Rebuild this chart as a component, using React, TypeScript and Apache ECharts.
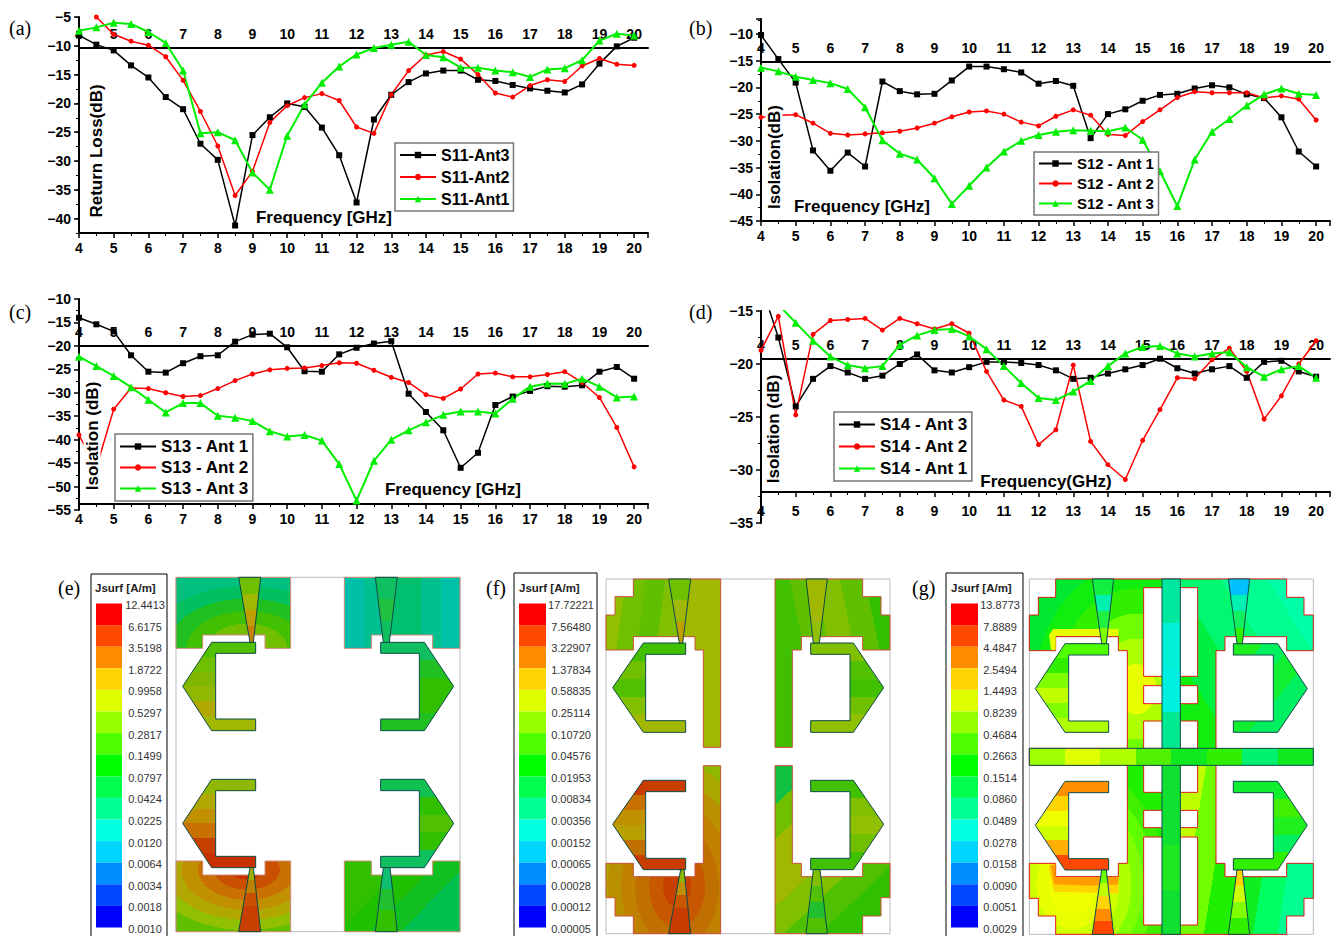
import React, { useEffect, useRef } from "react";
import * as echarts from "echarts";

const freq = [4,4.5,5,5.5,6,6.5,7,7.5,8,8.5,9,9.5,10,10.5,11,11.5,12,12.5,13,13.5,14,14.5,15,15.5,16,16.5,17,17.5,18,18.5,19,19.5,20];

const s11Ant3 = [-8.2,-9.8,-10.8,-13.4,-15.5,-18.9,-21,-27,-29.8,-41.2,-25.5,-22.4,-20,-20.6,-24.2,-29,-37.2,-22.8,-18.5,-16.3,-14.8,-14.3,-14.3,-15.9,-16.1,-16.8,-17.4,-17.8,-18.1,-16.7,-13.1,-10.1,-8.6];
const s11Ant2 = [null,-5,-8,-9.2,-9.9,-11.9,-16,-21.4,-27.4,-36,-31.8,-23.3,-20.4,-19,-18.3,-19.5,-24.1,-25.2,-18.5,-14.3,-11.6,-11,-12.3,-15,-18.2,-18.9,-16.9,-15.9,-16.2,-13.5,-12.2,-13.2,-13.4];
const s11Ant1 = [-7.4,-6.8,-6,-6.2,-7.6,-9.5,-14.3,-25.2,-25,-26.4,-32,-35,-25.6,-20.2,-16.4,-13.6,-11.5,-10.4,-9.8,-9.3,-11.6,-12,-13.8,-13.8,-14.3,-14.6,-15.4,-14.1,-13.9,-12.5,-9.1,-7.9,-8.2];

const s12Ant1 = [-10.2,-14.7,-19.1,-31.8,-35.6,-32.2,-34.8,-18.9,-20.7,-21.3,-21.2,-18.7,-16.1,-16.1,-16.6,-17.2,-19.3,-18.8,-19.7,-29.5,-25,-24.1,-22.5,-21.4,-21.2,-20.2,-19.6,-20,-21.3,-22,-25.6,-32,-34.8];
const s12Ant2 = [-25.6,-25.2,-25.1,-26.7,-28.6,-28.9,-28.7,-28.5,-28.2,-27.6,-26.7,-25.5,-24.6,-24.4,-25,-26.5,-27.2,-25.4,-24.2,-25.2,-28.8,-29,-26.4,-24.2,-21.9,-20.8,-21,-21,-21,-22,-21.6,-22.2,-26.1];
const s12Ant3 = [-16.3,-17,-18,-18.6,-19.2,-20.3,-23.7,-29.9,-32.4,-33.5,-37,-41.8,-38.4,-35,-32,-30,-28.9,-28.3,-28,-28.1,-28.2,-27.5,-29.8,-35.7,-42.2,-33.5,-28.3,-25.9,-23.4,-21.3,-20.2,-21.2,-21.4];

const s13Ant1 = [-14,-15.4,-16.9,-22,-25.5,-25.7,-23.7,-22.2,-22,-19.1,-17.6,-17.4,-20.3,-25.4,-25.5,-21.8,-20.4,-19.5,-19,-30.2,-34.1,-38,-46,-42.8,-32.6,-30.8,-29.6,-28.6,-28.7,-28.4,-25.5,-24.5,-27];
const s13Ant2 = [-39,-46,-33.5,-29,-29.1,-30,-30.8,-30.6,-29.1,-27.4,-26,-25.1,-24.8,-24.7,-24.2,-23.6,-23.7,-25.2,-26.7,-27.8,-30.4,-31.2,-29.2,-26,-25.8,-26.6,-26.6,-26.1,-25.5,-27.8,-31,-37.4,-45.8];
const s13Ant3 = [-22.3,-24.3,-26.4,-28.8,-31.5,-34.2,-32.2,-32.2,-34.9,-35.3,-36,-38.2,-39.3,-39,-40.2,-45.2,-53,-44.5,-40,-38,-36.3,-34.7,-34,-34,-34.4,-31.3,-28.7,-28,-28.1,-27,-28.7,-31,-30.8];

const s14Ant3 = [-12.5,-17.5,-24,-21.4,-20.2,-20.8,-21.4,-21.1,-20,-19.1,-20.6,-20.8,-20.3,-19.8,-19.8,-19.9,-20.1,-20.6,-21.4,-21.3,-20.9,-20.5,-20.1,-19.5,-20.4,-20.9,-20.5,-20.2,-21.3,-19.8,-19.7,-20.7,-21.2];
const s14Ant2 = [-18.7,-15.5,-24.8,-17.2,-15.9,-15.8,-15.7,-16.8,-15.7,-16.2,-16.7,-16.2,-17.1,-20.7,-23.4,-24,-27.6,-26.2,-20.1,-27.3,-29.5,-30.9,-27.2,-24.3,-21.3,-21.4,-19.6,-18.5,-20.7,-25.2,-23,-20,-17.8];
const s14Ant1 = [null,-14.4,-16.1,-17.8,-19.3,-20.1,-20.4,-20.2,-18.2,-17.3,-16.8,-16.7,-17.4,-18.6,-20.2,-21.8,-23.2,-23.4,-22.6,-21.6,-20.2,-19,-18.4,-18.3,-19,-19.3,-19,-18.9,-20.3,-21.2,-20.5,-20.2,-21.3];

const returnLossTicks = [-40,-35,-30,-25,-20,-15,-10,-5];

const barColors = ["#ff0000","#ff4800","#ff8c00","#ffd400","#dfff00","#95ff00","#4dff00","#00ff00","#00ff4d","#00ff95","#00ffdf","#00d4ff","#008cff","#0048ff","#0000ff"];
const labelsE = ["12.4413","6.6175","3.5198","1.8722","0.9958","0.5297","0.2817","0.1499","0.0797","0.0424","0.0225","0.0120","0.0064","0.0034","0.0018","0.0010"];
const labelsF = ["17.72221","7.56480","3.22907","1.37834","0.58835","0.25114","0.10720","0.04576","0.01953","0.00834","0.00356","0.00152","0.00065","0.00028","0.00012","0.00005"];
const labelsG = ["13.8773","7.8889","4.4847","2.5494","1.4493","0.8239","0.4684","0.2663","0.1514","0.0860","0.0489","0.0278","0.0158","0.0090","0.0051","0.0029"];

const SANS = "Liberation Sans";
const SERIF = "Liberation Serif";

function stops(colors: string[]) {
  const out: any[] = [];
  const n = colors.length;
  colors.forEach((c, i) => {
    out.push({ offset: i / n, color: c });
    out.push({ offset: (i + 1) / n, color: c });
  });
  return out;
}
const rad = (x: number, y: number, r: number, colors: string[]) =>
  new echarts.graphic.RadialGradient(x, y, r, stops(colors));
const lin = (x: number, y: number, x2: number, y2: number, colors: string[]) =>
  new echarts.graphic.LinearGradient(x, y, x2, y2, stops(colors));

function polygon(ox: number, oy: number, pts: number[][], fill: any, stroke: string, lw = 1, z = 1) {
  return {
    type: "polygon",
    z,
    silent: true,
    shape: { points: pts.map(([a, b]) => [ox + a / 3, oy + b / 3]) },
    style: { fill, stroke, lineWidth: lw },
  };
}

function colorBar(labels: string[], boxL: number, boxR: number, boxT: number, swL: number, swR: number, labelX: number, titleX: number) {
  const out: any[] = [];
  const top = 603.5;
  const h = (927.5 - top) / barColors.length;
  out.push({ type: "rect", silent: true, shape: { x: boxL, y: boxT, width: boxR - boxL, height: 970 - boxT }, style: { fill: "#fff", stroke: "#000", lineWidth: 1 } });
  out.push({ type: "text", silent: true, x: titleX, y: 588, style: { text: "Jsurf [A/m]", fill: "#222", fontFamily: SANS, fontSize: 11.5, fontWeight: "bold", textVerticalAlign: "middle" } });
  barColors.forEach((c, i) => {
    out.push({ type: "rect", silent: true, shape: { x: swL, y: top + i * h, width: swR - swL, height: h }, style: { fill: c } });
  });
  labels.forEach((t, i) => {
    out.push({ type: "text", silent: true, x: labelX, y: top + 1.5 + i * h, style: { text: t, fill: "#333", fontFamily: SANS, fontSize: 11, textAlign: "center", textVerticalAlign: "middle" } });
  });
  return out;
}

const DK = "#0e4a4a";

function panelE() {
  const x = 50, y = 565;
  const ed = "#d08a78";
  const p = (pts: number[][], f: any, s = DK, lw = 1) => polygon(x, y, pts, f, s, lw);
  return [
    { type: "rect", silent: true, shape: { x: x + 378 / 3, y: y + 37 / 3, width: 852 / 3, height: 1063 / 3 }, style: { fill: "#fff", stroke: "#bbb", lineWidth: 1 } },
    p([[378,37],[722,37],[722,250],[645,250],[645,210],[458,210],[458,250],[378,250]], rad(0.62,1,1.05,["#a0b800","#70c000","#40c000","#20c020","#00c060","#00c080"]), ed),
    p([[883,37],[1230,37],[1230,250],[1148,250],[1148,210],[964,210],[964,250],[883,250]], lin(0,0,1,0,["#00bfa8","#00c090","#00c070","#00c070","#00c090","#00c0a8"]), ed),
    p([[378,888],[458,888],[458,930],[645,930],[645,888],[722,888],[722,1100],[378,1100]], rad(0.62,0.12,1,["#c83000","#c85000","#c87000","#c09000","#b0a800","#90c000","#60c000"]), ed),
    p([[883,888],[964,888],[964,930],[1148,930],[1148,888],[1230,888],[1230,1100],[883,1100]], lin(0,0,1,0.6,["#30c000","#30c000","#20c000","#10c020","#00c050"]), ed),
    p([[485,232],[617,232],[617,265],[497,265],[497,462],[617,462],[617,497],[485,497],[398,364]], lin(0,0,0,1,["#50c000","#70c000","#80b800","#90b800","#b0a800","#a0b800"])),
    p([[1123,232],[992,232],[992,265],[1108,265],[1108,462],[992,462],[992,497],[1123,497],[1211,364]], lin(0,0,0,1,["#10c060","#20c020","#30c000","#30c000","#20c020"])),
    p([[485,643],[617,643],[617,677],[497,677],[497,874],[617,874],[617,908],[485,908],[398,775]], lin(0,0,0,1,["#90b800","#b0a800","#c09000","#c87000","#c84000","#c83000"])),
    p([[1123,643],[992,643],[992,677],[1108,677],[1108,874],[992,874],[992,908],[1123,908],[1211,775]], lin(0,0,0,1,["#10c050","#30c000","#50c000","#30c000","#10c060"])),
    p([[566,37],[632,37],[610,232],[600,232]], lin(0,1,0,0,["#c88000","#c0a000","#a0b800","#70c000"])),
    p([[976,37],[1042,37],[1018,232],[1000,232]], lin(0,0,0,1,["#10c060","#20c040","#10c060"])),
    p([[566,1100],[632,1100],[610,908],[600,908]], lin(0,1,0,0,["#c84000","#c84000","#c85000","#c08000","#a0b000"])),
    p([[976,1100],[1042,1100],[1020,908],[1000,908]], lin(0,0,0,1,["#10c070","#20c030","#30c000"])),
  ];
}

function panelF() {
  const x = 480, y = 565;
  const ed = "#c8503c";
  const p = (pts: number[][], f: any, s = DK, lw = 1) => polygon(x, y, pts, f, s, lw);
  return [
    { type: "rect", silent: true, shape: { x: x + 378 / 3, y: y + 42 / 3, width: 852 / 3, height: 1064 / 3 }, style: { fill: "#fff", stroke: "#bbb", lineWidth: 1 } },
    p([[460,42],[722,42],[722,547],[670,547],[670,255],[645,255],[645,215],[460,215],[460,255],[378,255],[378,150],[405,150],[405,95],[460,95]], lin(0,0,1,0.2,["#90c000","#70c000","#60c000","#80c000","#a0b800","#a0b800"]), ed),
    p([[885,42],[885,547],[937,547],[937,255],[964,255],[964,215],[1148,215],[1148,255],[1230,255],[1230,150],[1203,150],[1203,95],[1148,95],[1148,42]], lin(0,0.3,1,0,["#40c000","#60c000","#80c000","#60c000","#30c000"]), ed),
    p([[670,602],[722,602],[722,1106],[460,1106],[460,1053],[405,1053],[405,998],[378,998],[378,895],[460,895],[460,935],[645,935],[645,895],[670,895]], rad(0.62,0.72,0.85,["#c84000","#c85800","#c07000","#c08000","#b89000","#a8a800","#90b800"]), ed),
    p([[885,602],[937,602],[937,895],[964,895],[964,935],[1148,935],[1148,895],[1230,895],[1230,998],[1203,998],[1203,1053],[1148,1053],[1148,1106],[885,1106]], lin(0.05,0,0.7,1,["#10c040","#70c000","#a0b800","#a0b800","#80c000","#50c000","#30c000"]), ed),
    p([[490,234],[617,234],[617,268],[497,268],[497,467],[617,467],[617,502],[490,502],[398,368]], lin(0,0,0,1,["#40c000","#70c000","#50c000","#80c000","#a0b800"])),
    p([[1120,234],[992,234],[992,268],[1110,268],[1110,467],[992,467],[992,502],[1120,502],[1211,368]], lin(0,0,0,1,["#80c000","#50c000","#40c000","#70c000","#90c000"])),
    p([[490,646],[617,646],[617,680],[497,680],[497,880],[617,880],[617,914],[490,914],[398,778]], lin(0,0,0,1,["#c83c00","#c87000","#c09000","#b8a000","#c07000","#c83c00"])),
    p([[1120,646],[992,646],[992,680],[1110,680],[1110,880],[992,880],[992,914],[1120,914],[1211,778]], lin(0,0,0,1,["#40c000","#80c000","#90c000","#70c000","#40c000"])),
    p([[566,42],[632,42],[608,234],[598,234]], lin(0,1,0,0,["#c0a000","#a0b800","#70c000"])),
    p([[978,42],[1042,42],[1018,234],[1000,234]], lin(0,0,0,1,["#a0b800","#a0b800","#90c000"])),
    p([[566,1106],[632,1106],[612,914],[602,914]], lin(0,1,0,0,["#c83c00","#c83c00","#c85800","#c09000","#90b800"])),
    p([[978,1106],[1042,1106],[1020,914],[1000,914]], lin(0,1,0,0,["#50c000","#20c030","#50c000","#80c000"])),
  ];
}

function panelG() {
  const x = 905, y = 565;
  const ed = "#e01818";
  const p = (pts: number[][], f: any, s = DK, lw = 1) => polygon(x, y, pts, f, s, lw);
  const slots = [[716,68,878,334],[716,362,878,416],[716,468,878,550],[716,601,878,682],[716,736,878,788],[716,816,878,1080]];
  return [
    { type: "rect", silent: true, shape: { x: x + 373 / 3, y: y + 42 / 3, width: 852 / 3, height: 1066 / 3 }, style: { fill: "#fff", stroke: "#bbb", lineWidth: 1 } },
    p([[452,42],[800,42],[800,575],[373,575],[373,550],[667,550],[667,257],[640,257],[640,215],[452,215],[452,257],[373,257],[373,150],[400,150],[400,97],[452,97]], rad(0.75,0.62,0.85,["#e8ff00","#b0ff00","#70ff00","#30f000","#10ee10","#00e830"]), ed),
    p([[800,42],[1145,42],[1145,97],[1197,97],[1197,150],[1225,150],[1225,257],[1145,257],[1145,215],[960,215],[960,257],[933,257],[933,575],[800,575]], lin(0,0.8,1,0,["#10ee10","#00f040","#00f870","#00ff90","#00ffa8"]), ed),
    p([[373,601],[667,601],[667,895],[640,895],[640,935],[452,935],[452,895],[373,895],[373,1000],[400,1000],[400,1053],[452,1053],[452,1108],[800,1108],[800,575],[373,575]], rad(0.3,0.72,0.75,["#f0ff00","#f0ff00","#e8ff00","#d0ff00","#b0ff00","#80ff00","#60ff00","#40f000","#20f000"]), ed),
    p([[800,575],[933,575],[933,895],[960,895],[960,935],[1145,935],[1145,895],[1225,895],[1225,1000],[1197,1000],[1197,1053],[1145,1053],[1145,1108],[800,1108]], lin(0,0.4,1,0.6,["#c0ff00","#70ff00","#20f000","#10ee20","#00ff60","#00ff90"]), ed),
    // hot bands around the feed notches
    polygon(x, y, [[438,255],[452,255],[452,213],[640,213],[640,192],[445,192],[432,210]], "#e8ff00", "none"),
    polygon(x, y, [[437,900],[451,900],[451,937],[640,937],[640,958],[560,962],[447,958]], "#ff9c00", "none"),
    polygon(x, y, [[451,897],[437,897],[430,905],[447,980],[640,985],[640,958],[447,958]], "#ffd400", "none"),
    polygon(x, y, [[437,900],[451,900],[451,937],[640,937],[640,958],[560,962],[447,958]], "#ff9c00", "none"),
    ...slots.map(([a, b, c, d]) => p([[a,b],[c,b],[c,d],[a,d]], "#fff", ed)),
    p([[771,42],[826,42],[826,1108],[771,1108]], lin(0,0,0,1,["#00e8a0","#00f0d8","#00f0e0","#00e890","#10e030","#10e030","#20e820","#10e030"]), DK),
    p([[373,550],[1225,550],[1225,601],[373,601]], lin(0,0,1,0,["#a0ff00","#e0ff00","#b0ff00","#50f000","#10e820","#30f000","#00f070","#10e820"]), DK),
    p([[480,236],[611,236],[611,270],[491,270],[491,468],[611,468],[611,502],[480,502],[391,371]], lin(0,0,0,1,["#50ff00","#30f000","#80ff00","#c0ff00","#80ff00","#b0ff00"])),
    p([[1118,236],[985,236],[985,270],[1105,270],[1105,468],[985,468],[985,502],[1118,502],[1207,371]], lin(0,0,1,1,["#20f020","#00f060","#10f030","#00ef60","#00e8a0"])),
    p([[480,649],[611,649],[611,683],[491,683],[491,881],[611,881],[611,915],[480,915],[391,781]], lin(0,0,0,1,["#ff9000","#ffd400","#f0ff00","#d0ff00","#ffb000","#ff4800"])),
    p([[1118,649],[985,649],[985,683],[1105,683],[1105,881],[985,881],[985,915],[1118,915],[1207,781]], lin(0,0,0,1,["#10ee30","#40f000","#20f020","#00f060","#30f000"])),
    p([[562,42],[626,42],[604,236],[590,236]], lin(0,0,0,1,["#10f040","#00f0b0","#20f040","#80ff00"])),
    p([[970,42],[1034,42],[1012,236],[996,236]], lin(0,0,0,1,["#00c0ff","#00f0b0","#10f060","#30f000"])),
    p([[562,1108],[626,1108],[604,915],[590,915]], lin(0,1,0,0,["#ff4800","#ff8c00","#ffd400","#c0ff00","#70ff00"])),
    p([[970,1108],[1034,1108],[1012,915],[996,915]], lin(0,1,0,0,["#30f000","#80ff00","#d0ff00","#ffd400"])),
  ];
}

function caption(t: string, x: number, y: number) {
  return { type: "text", silent: true, x, y, style: { text: t, fill: "#000", fontFamily: SERIF, fontSize: 20, textVerticalAlign: "middle" } };
}
function axisTitle(t: string, x: number, y: number, vertical: boolean, size = 17) {
  return {
    type: "text", silent: true, z: 20, x, y, rotation: vertical ? Math.PI / 2 : 0,
    style: { text: t, fill: "#000", fontFamily: SANS, fontSize: size, fontWeight: "bold", textAlign: "center", textVerticalAlign: "middle", backgroundColor: vertical ? "#fff" : undefined },
  };
}

const minusFmt = (v: number) => String(v).replace("-", "\u2212");

type PanelCfg = {
  left: number; width: number; top: number; bottom: number;
  yMin: number; yMax: number; fine?: boolean; topOffset: number; bottomOffset: number; labelMargin: number;
  names: string[]; data: (number | null)[][];
  legend: { left: number; top: number; gap: number; size: number; width: number };
};

const panels: PanelCfg[] = [
  { left: 79, width: 569, top: 17, bottom: 233, yMin: -42.5, yMax: -5, fine: true, topOffset: -31, bottomOffset: 0, labelMargin: 8,
    names: ["S11-Ant3","S11-Ant2","S11-Ant1"], data: [s11Ant3, s11Ant2, s11Ant1], legend: { left: 395, top: 143, gap: 6, size: 16, width: 36 } },
  { left: 761, width: 569, top: 19, bottom: 221, yMin: -45, yMax: -7.2, topOffset: -43, bottomOffset: 0, labelMargin: 8,
    names: ["S12 - Ant 1","S12 - Ant 2","S12 - Ant 3"], data: [s12Ant1, s12Ant2, s12Ant3], legend: { left: 1034, top: 152, gap: 5, size: 15, width: 33 } },
  { left: 79, width: 569, top: 299, bottom: 510, yMin: -55, yMax: -10, topOffset: -47, bottomOffset: -6, labelMargin: 8,
    names: ["S13 - Ant 1","S13 - Ant 2","S13 - Ant 3"], data: [s13Ant1, s13Ant2, s13Ant3], legend: { left: 115, top: 434, gap: 4, size: 17, width: 36 } },
  { left: 761, width: 569, top: 311, bottom: 523, yMin: -35, yMax: -15, topOffset: -48, bottomOffset: -31, labelMargin: 12,
    names: ["S14 - Ant 3","S14 - Ant 2","S14 - Ant 1"], data: [s14Ant3, s14Ant2, s14Ant1], legend: { left: 834, top: 412, gap: 5, size: 17, width: 36 } },
];

const serStyle = [
  { color: "#000000", symbol: "rect", symbolSize: 6, width: 1.5 },
  { color: "#ff0000", symbol: "circle", symbolSize: 5, width: 1.5 },
  { color: "#00ee00", symbol: "triangle", symbolSize: 8, width: 2 },
];

export default function App() {
  const ref = useRef<HTMLDivElement>(null);
  useEffect(() => {
    const chart = echarts.init(ref.current!, null, { renderer: "svg", width: 1333, height: 936 });
    const labelStyle = { color: "#000", fontFamily: SANS, fontWeight: "bold" as const, fontSize: 14 };
    const grid: any[] = [];
    const xAxis: any[] = [];
    const yAxis: any[] = [];
    const series: any[] = [];
    const legend: any[] = [];
    panels.forEach((p, i) => {
      grid.push({ left: p.left, top: p.top, width: p.width, height: p.bottom - p.top, containLabel: false });
      const xBase = {
        type: "value", gridIndex: i, min: 4, max: 20.4, interval: 1,
        splitLine: { show: false },
        axisLine: { onZero: false, lineStyle: { color: "#000", width: 2 } },
        axisLabel: { ...labelStyle, showMaxLabel: false, showMinLabel: true },
      };
      xAxis.push({
        ...xBase, position: "bottom", offset: p.bottomOffset,
        axisTick: { show: true, length: 5, inside: false, lineStyle: { color: "#000", width: 1.5 } },
        minorTick: { show: true, splitNumber: 2, length: 3, lineStyle: { color: "#000", width: 1 } },
        axisLabel: { ...xBase.axisLabel, margin: p.labelMargin },
      });
      xAxis.push({
        ...xBase, position: "top", offset: p.topOffset,
        axisTick: { show: false },
        axisLabel: { ...xBase.axisLabel, margin: 7 },
      });
      const yBase = {
        type: "value", gridIndex: i, min: p.yMin, max: p.yMax, position: "left",
        splitLine: { show: false },
        axisLine: { onZero: false, lineStyle: { color: "#000", width: 2 } },
      };
      if (p.fine) {
        yAxis.push({
          ...yBase, interval: 2.5,
          axisTick: { show: true, length: 5, customValues: returnLossTicks, lineStyle: { color: "#000", width: 1.5 } },
          axisLabel: { ...labelStyle, margin: 8, formatter: minusFmt, customValues: returnLossTicks },
        });
      } else {
        yAxis.push({
          ...yBase, interval: 5,
          axisTick: { show: true, length: 5, lineStyle: { color: "#000", width: 1.5 } },
          minorTick: { show: true, splitNumber: 2, length: 3, lineStyle: { color: "#000", width: 1 } },
          axisLabel: { ...labelStyle, margin: 8, formatter: minusFmt, showMaxLabel: Number.isInteger(p.yMax), showMinLabel: Number.isInteger(p.yMin) },
        });
      }
      p.names.forEach((name, k) => {
        const st = serStyle[k];
        series.push({
          type: "line", name, xAxisIndex: i * 2, yAxisIndex: i,
          data: freq.map((f, j) => [f, p.data[k][j]]),
          symbol: st.symbol, symbolSize: st.symbolSize, showSymbol: true, connectNulls: false,
          lineStyle: { color: st.color, width: st.width }, itemStyle: { color: st.color },
          clip: true, silent: true,
        });
      });
      legend.push({
        data: p.names, orient: "vertical", left: p.legend.left, top: p.legend.top,
        itemWidth: p.legend.width, itemHeight: 8, itemGap: p.legend.gap, padding: [4, 4, 4, 4],
        backgroundColor: "#fff", borderColor: "#777", borderWidth: 1.5, borderRadius: 0,
        selectedMode: false, z: 10,
        textStyle: { color: "#000", fontFamily: SANS, fontWeight: "bold", fontSize: p.legend.size, padding: [0, 0, 0, 0] },
      });
    });
    panels.forEach((p, i) => {
      if (!p.fine) return;
      yAxis.push({
        type: "value", gridIndex: i, min: p.yMin, max: p.yMax, position: "left", interval: 2.5,
        splitLine: { show: false }, axisLine: { show: false, onZero: false }, axisLabel: { show: false },
        axisTick: { show: true, length: 3, lineStyle: { color: "#000", width: 1 } },
      });
    });

    const elements: any[] = [
      caption("(a)", 9, 28), caption("(b)", 689, 28), caption("(c)", 9, 312), caption("(d)", 689, 312),
      caption("(e)", 58, 588), caption("(f)", 486, 588), caption("(g)", 912, 588),
      axisTitle("Return Loss(dB)", 96, 151, true),
      axisTitle("Frequency [GHz]", 324, 217, false),
      axisTitle("Isolation(dB)", 774, 157, true),
      axisTitle("Frequency [GHz]", 862, 206, false),
      axisTitle("Isolation (dB)", 92, 436, true),
      axisTitle("Frequency [GHz]", 453, 489, false),
      axisTitle("Isolation (dB)", 773, 429, true),
      axisTitle("Frequency(GHz)", 1046, 481, false),
      ...colorBar(labelsE, 91, 167, 574, 96, 122, 145, 95),
      ...panelE(),
      ...colorBar(labelsF, 514, 597, 573, 519, 546, 571, 519),
      ...panelF(),
      ...colorBar(labelsG, 946, 1023, 573, 951, 978, 1000, 951),
      ...panelG(),
    ];

    chart.setOption({
      animation: false,
      backgroundColor: "#fff",
      tooltip: { show: false },
      grid, xAxis, yAxis, series, legend,
      graphic: { elements },
    });
    return () => chart.dispose();
  }, []);
  return <div ref={ref} style={{ position: "absolute", left: 0, top: 0, width: 1333, height: 936 }} />;
}
